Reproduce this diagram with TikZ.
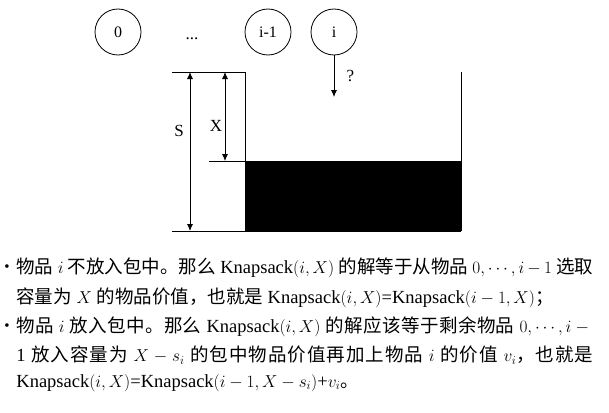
\documentclass[tikz,border=0pt]{standalone}
\usepackage{fontspec}
\setmainfont{Liberation Serif}
\newfontfamily\cjk{Noto Sans CJK SC}
\XeTeXlinebreaklocale "zh"
\XeTeXlinebreakskip=0pt plus 2pt
\usetikzlibrary{positioning, arrows.meta}

\newcommand{\zh}[1]{{\cjk #1}}
\newcommand{\fullline}[1]{\parbox{577pt}{\parfillskip=0pt\relax #1}}

\tikzset{
	item/.style={circle, draw, minimum size=46pt, inner sep=0pt, font=\fontsize{16}{16}\selectfont},
	dimlabel/.style={font=\fontsize{17}{17}\selectfont},
	textline/.style={anchor=west, inner sep=0pt, font=\fontsize{18.5}{29}\selectfont},
	dot/.style={inner sep=0pt, font=\fontsize{15}{15}\selectfont}
}

\begin{document}
\begin{tikzpicture}[x=1pt, y=-1pt, >={Latex[length=7pt,width=6pt]}, line width=0.8pt]
		\useasboundingbox (0,0) rectangle (609,412);
		
		% items
		\node[item] (n0) at (118,32) {0};
		\node[dimlabel] (dots) at (192,39) {...};
		\node[item] (nprev) at (268,32) {i-1};
		\node[item] (ni) at (334,32) {i};
		\coordinate (drop) at (334,97);
		\draw[->] (ni) -- (drop) node[midway, right=9pt, dimlabel] (q) {?};
		
		% bag
		\coordinate (tl) at (172,72);
		\coordinate (wl) at (245,72);
		\coordinate (wr) at (461,72);
		\coordinate (bl) at (172,231);
		\coordinate (bb) at (245,231);
		\coordinate (br) at (461,231);
		\coordinate (ml) at (209,161);
		\coordinate (mf) at (245,161);
		\fill (mf) rectangle (br);
		\draw (tl) -- (wl) -- (bb);
		\draw (wr) -- (br);
		\draw (bl) -- (br);
		\draw (ml) -- (mf);
		
		% sizes
		\coordinate (stop) at (190,72);
		\coordinate (sbot) at (190,231);
		\coordinate (xtop) at (225,72);
		\coordinate (xbot) at (225,161);
		\draw[<->] (stop) -- (sbot);
		\draw[<->] (xtop) -- (xbot);
		\node[dimlabel] (slabel) at (179,131) {S};
		\node[dimlabel] (xlabel) at (216,126) {X};
		
		% text
		\foreach \y/\name in {268/b1, 327/b2}
			\node[dot] (\name) at (7,\y) {\textbullet};
		\node[textline] (l1) at (16,268) {\fullline{\zh{物品} $i$ \zh{不放入包中。那么} Knapsack$(i,X)$ \zh{的解等于从物品} $0,\cdots,i-1$ \zh{选取}}};
		\node[textline] (l2) at (16,298) {\zh{容量为} $X$ \zh{的物品价值，也就是} Knapsack$(i,X)$=Knapsack$(i-1,X)$\zh{；}};
		\node[textline] (l3) at (16,327) {\fullline{\zh{物品} $i$ \zh{放入包中。那么} Knapsack$(i,X)$ \zh{的解应该等于剩余物品} $0,\cdots,i-{}$}};
		\node[textline] (l4) at (16,355) {\fullline{1 \zh{放入容量为} $X-s_i$ \zh{的包中物品价值再加上物品} $i$ \zh{的价值} $v_i$\zh{，也就是}}};
		\node[textline] (l5) at (16,383) {Knapsack$(i,X)$=Knapsack$(i-1,X-s_i)$+$v_i$\zh{。}};
	\end{tikzpicture}
\end{document}
